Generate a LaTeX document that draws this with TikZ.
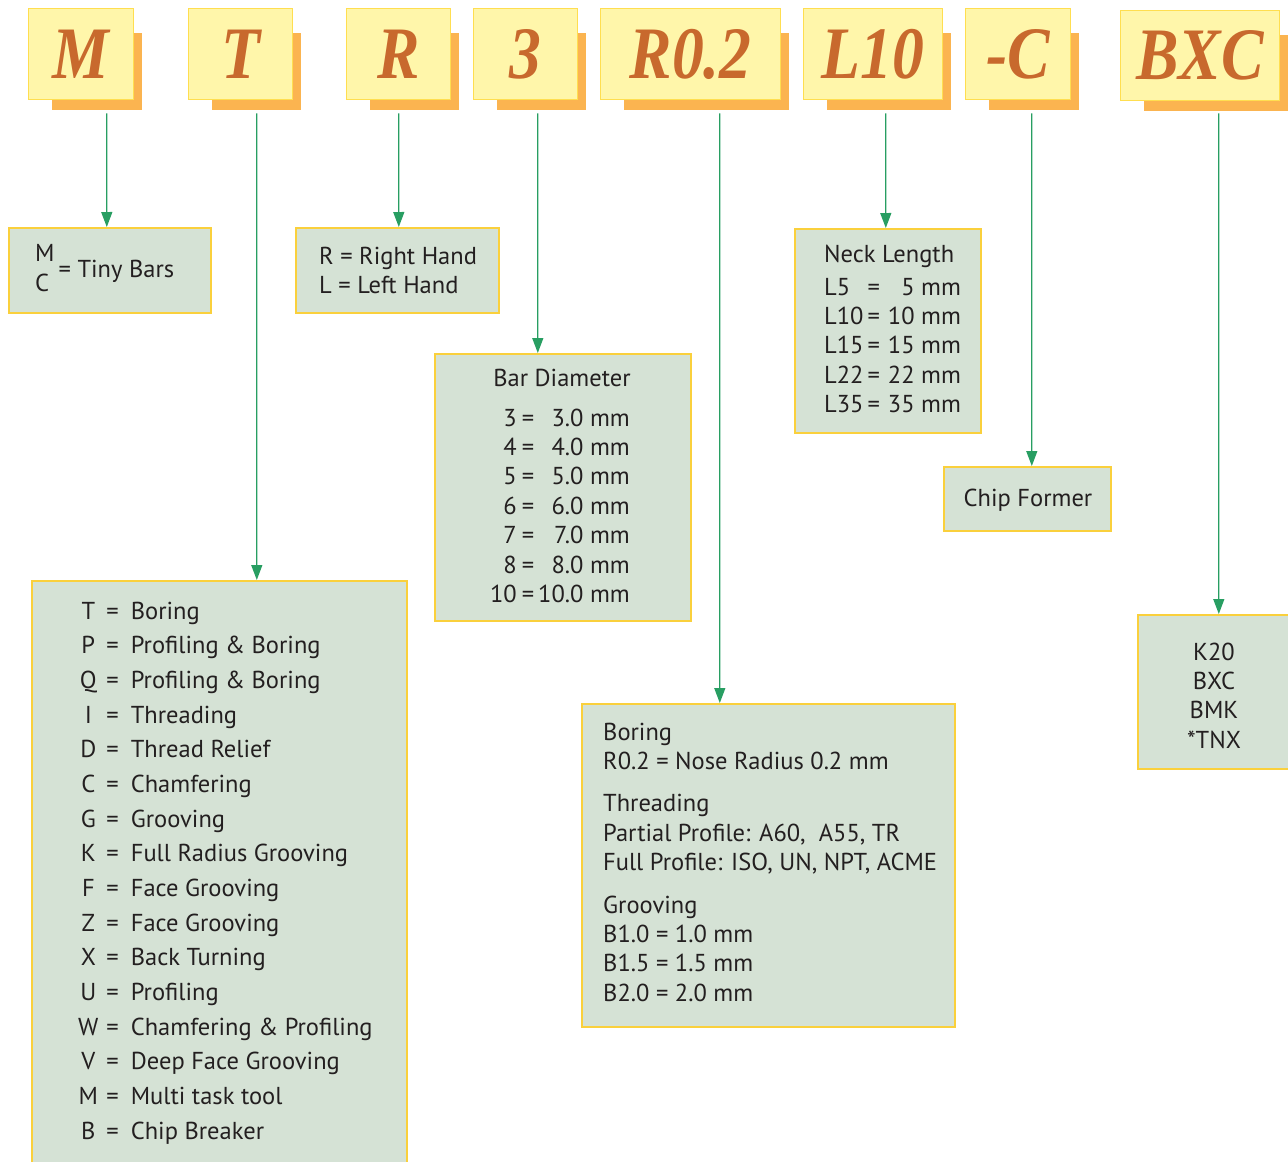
\documentclass[tikz,border=0pt]{standalone}
\usepackage{fontspec}
\setmainfont{PT Sans}
\newfontfamily\codefont[FakeStretch=0.86]{Liberation Serif}
\usetikzlibrary{arrows.meta,positioning}
\definecolor{codefill}{RGB}{255,246,170}
\definecolor{codeedge}{RGB}{255,222,80}
\definecolor{codeshadow}{RGB}{251,180,80}
\definecolor{codetext}{RGB}{200,105,45}
\definecolor{keyfill}{RGB}{213,226,213}
\definecolor{keyedge}{RGB}{250,208,60}
\definecolor{linkgreen}{RGB}{40,158,98}
\definecolor{inktext}{RGB}{35,31,32}
\tikzset{
  % code letter boxes on top
  code/.style={
    draw=codeedge, fill=codefill, line width=1.3pt,
    inner sep=0pt, anchor=north west,
    font=\codefont\bfseries\itshape\fontsize{74}{74}\selectfont,
    text=codetext
  },
  % explanation boxes
  key/.style={draw=keyedge, fill=keyfill, line width=1.6pt, inner sep=0pt, anchor=north west},
  % explanation text
  keytext/.style={font=\fontsize{24.5}{29.4}\selectfont, text=inktext, inner sep=0pt},
  % arrows
  link/.style={draw=linkgreen, line width=1.3pt, -{Triangle[length=15pt,width=11pt]}},
}

\begin{document}
\begin{tikzpicture}[x=1pt,y=-1pt]
    \useasboundingbox (0,0) rectangle (1288,1162);

    % code boxes with shadow
    \foreach \nm/\x/\y/\w/\h/\t in {m/28/8/105/91/M, t/188/8/104/91/T, r/346/8/104/91/R, dia/473/8/104/91/3,
        rad/600/8/180/91/R0.2, neck/803/8/139/91/L10, chip/965/8/105/91/-C, grade/1120/10/159/90/BXC}{
        \fill[codeshadow] (\x+24,\y+25) rectangle (\x+\w+9,\y+\h+11);
        \node[code, minimum width=\w pt, minimum height=\h pt] (\nm) at (\x,\y) {\t};
    }

    % explanation boxes
    \node[key, minimum width=202pt, minimum height=85pt] (mk) at (8,227) {};
    \node[key, minimum width=375pt, minimum height=620pt] (tk) at (31,580) {};
    \node[key, minimum width=203pt, minimum height=85pt] (rk) at (295,227) {};
    \node[key, minimum width=256pt, minimum height=267pt] (dk) at (434,353) {};
    \node[key, minimum width=373pt, minimum height=323pt] (radk) at (581,703) {};
    \node[key, minimum width=186pt, minimum height=204pt] (nk) at (794,228) {};
    \node[key, minimum width=167pt, minimum height=64pt] (ck) at (943,466) {};
    \node[key, minimum width=170pt, minimum height=154pt] (gk) at (1137,614) {};

    % texts
    \node[keytext, anchor=base west] (mtext) at (35,277)
        {\begin{tabular}{@{}l@{}}M\\C\end{tabular}\,= Tiny Bars};
    \node[keytext, anchor=base west] (rtext) at (319,264)
        {\begin{tabular}[t]{@{}l@{}}R = Right Hand\\L = Left Hand\end{tabular}};
    \node[keytext, anchor=base] (dtitle) at (562,386) {Bar Diameter};
    \node[keytext, anchor=base east] (dtext) at (630,426)
        {\begin{tabular}[t]{@{}r@{\hspace{5pt}=\hspace{4pt}}r@{}}
            3 & 3.0 mm\\ 4 & 4.0 mm\\ 5 & 5.0 mm\\ 6 & 6.0 mm\\
            7 & 7.0 mm\\ 8 & 8.0 mm\\ 10 & 10.0 mm
        \end{tabular}};
    \node[keytext, anchor=base west] (ntitle) at (824,262) {Neck Length};
    \node[keytext, anchor=base west] (ntext) at (824,295)
        {\begin{tabular}[t]{@{}l@{\hspace{4pt}=\hspace{8pt}}r@{}}
            L5 & 5 mm\\ L10 & 10 mm\\ L15 & 15 mm\\ L22 & 22 mm\\ L35 & 35 mm
        \end{tabular}};
    \node[keytext, anchor=base] (ctext) at (1028,506) {Chip Former};
    \node[keytext, anchor=base] (gtext) at (1214,660)
        {\begin{tabular}[t]{@{}c@{}}K20\\ BXC\\ BMK\\ {*}TNX\end{tabular}};
    \node[keytext, anchor=base west] (ttext) at (78,619)
        {\def\arraystretch{1.18}\begin{tabular}[t]{@{}c@{\hspace{8pt}=\hspace{12pt}}l@{}}
            T & Boring\\ P & Profiling \& Boring\\ Q & Profiling \& Boring\\
            I & Threading\\ D & Thread Relief\\ C & Chamfering\\ G & Grooving\\
            K & Full Radius Grooving\\ F & Face Grooving\\ Z & Face Grooving\\
            X & Back Turning\\ U & Profiling\\ W & Chamfering \& Profiling\\
            V & Deep Face Grooving\\ M & Multi task tool\\ B & Chip Breaker
        \end{tabular}};
    \node[keytext, anchor=base west] (radtext) at (603,740)
        {\begin{tabular}[t]{@{}l@{}}
            Boring\\ R0.2 = Nose Radius 0.2 mm\\[13pt]
            Threading\\ Partial Profile: A60,\ \ A55, TR\\ Full Profile: ISO, UN, NPT, ACME\\[13pt]
            Grooving\\ B1.0 = 1.0 mm\\ B1.5 = 1.5 mm\\ B2.0 = 2.0 mm
        \end{tabular}};

    % arrows
    \draw[link] ([xshift=25.5pt,yshift=-13pt]m.south) -- ([xshift=-3pt]mk.north);
    \draw[link] ([xshift=16pt,yshift=-13pt]t.south) -- ([xshift=37.5pt]tk.north);
    \draw[link] ([yshift=-13pt]r.south) -- ([xshift=1.5pt]rk.north);
    \draw[link] ([xshift=12pt,yshift=-13pt]dia.south) -- ([xshift=-25pt]dk.north);
    \draw[link] ([xshift=29pt,yshift=-13pt]rad.south) -- ([xshift=-48.5pt]radk.north);
    \draw[link] ([xshift=12.5pt,yshift=-13pt]neck.south) -- ([xshift=-2pt]nk.north);
    \draw[link] ([xshift=13.5pt,yshift=-13pt]chip.south) -- ([xshift=4.5pt]ck.north);
    \draw[link] ([xshift=18.5pt,yshift=-12pt]grade.south) -- ([xshift=-4pt]gk.north);
\end{tikzpicture}
\end{document}
